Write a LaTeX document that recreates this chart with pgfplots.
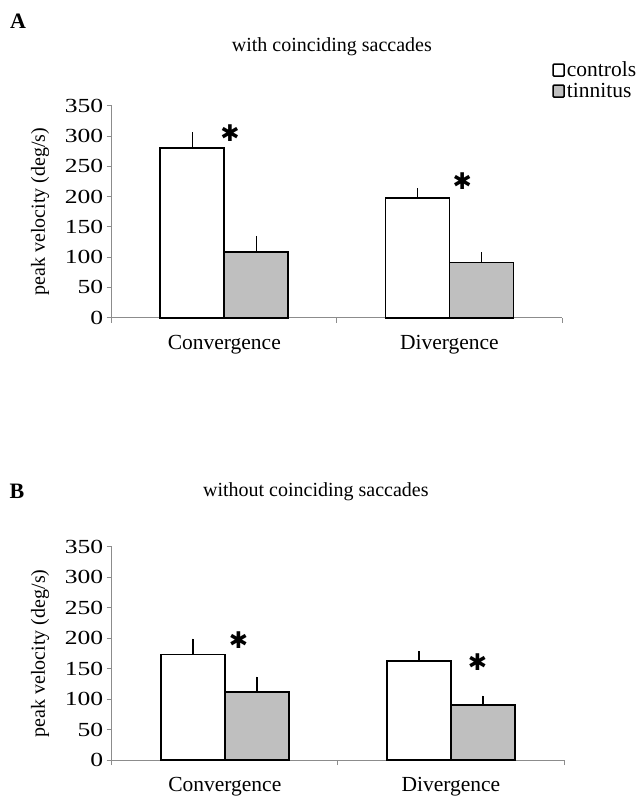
\documentclass[border=0pt]{standalone}
\usepackage{fontspec}
\setmainfont{Liberation Serif}
\newfontfamily\dejavu{DejaVu Sans}
\usepackage{graphicx}
\usepackage{pgfplots}
\pgfplotsset{compat=1.18}
\newcommand{\fs}{\rmfamily\fontsize{20}{24}\selectfont}
\newcommand{\fl}{\rmfamily\fontsize{21.5}{24}\selectfont}
\pgfplotsset{
  myaxis/.style={
    scale only axis,
    ybar=0pt, bar width=64pt,
    ymin=0, ymax=350, ytick={0,50,...,350},
    yticklabel={\scalebox{1.28}[1]{\pgfmathprintnumber{\tick}}},
    xmin=-0.5, xmax=1.5,
    xtick={-0.5,0.5,1.5}, xticklabels={},
    extra x ticks={0,1}, extra x tick labels={Convergence,Divergence},
    extra x tick style={major tick length=0pt, tick label style={yshift=-14pt, font=\fl}},
    axis x line*=bottom, axis y line*=left,
    axis line style={-, color=black!45, line width=0.9pt},
    tick style={color=black!45, line width=0.9pt},
    tick align=outside, major tick length=5pt,
    tick label style={font=\fs},
    /pgf/number format/assume math mode=true,
    ylabel={peak velocity (deg/s)},
    every axis y label/.style={at={(rel axis cs:0,0.5)}, xshift=-71.7pt, rotate=90, anchor=center, font=\fs},
    title style={font=\fs, at={(rel axis cs:0.5,1)}, anchor=center},
    clip=false,
  },
  ctrl/.style={fill=white, draw=black, line width=1.8pt,
    error bars/.cd, y dir=plus, y explicit, error mark=none,
    error bar style={line width=1.5pt, black}},
  tinn/.style={fill=black!25, draw=black, line width=1.8pt,
    error bars/.cd, y dir=plus, y explicit, error mark=none,
    error bar style={line width=1.5pt, black}},
}
\newcommand{\sigast}{{\dejavu\fontsize{23}{23}\selectfont ✱}}
\begin{document}
\begin{tikzpicture}
\path[use as bounding box] (0,0) rectangle (640pt,803pt);
\node[font=\rmfamily\bfseries\fontsize{22}{24}\selectfont] at (18pt,782pt) {A};
\node[font=\rmfamily\bfseries\fontsize{22}{24}\selectfont] at (17pt,312pt) {B};
\begin{axis}[myaxis, at={(111.7pt,485.3pt)}, anchor=south west,
  width=450.3pt, height=212pt,
  title={with coinciding saccades}, title style={yshift=52.7pt, xshift=-5pt},
  legend style={draw=none, fill=none, inner sep=0pt, font=\fl,
    at={(0.978,1.119)}, anchor=west, row sep=1pt, legend cell align=left},
  legend image code/.code={\draw[#1, line width=1.6pt, rounded corners=1pt] (0pt,-6pt) rectangle (11pt,6pt);},
]
\addplot[ctrl] coordinates {(0,280) +- (0,26) (1,197) +- (0,16.5)};
\addplot[tinn] coordinates {(0,108) +- (0,27) (1,91) +- (0,17)};
\legend{controls,tinnitus}
\node at (axis cs:0.026,305) {\sigast};
\node at (axis cs:1.057,226) {\sigast};
\end{axis}
\begin{axis}[myaxis, at={(111.7pt,43pt)}, anchor=south west,
  width=452.3pt, height=213.3pt,
  title={without coinciding saccades}, title style={yshift=48.7pt, xshift=-22pt},
]
\addplot[ctrl] coordinates {(0,173) +- (0,26) (1,162) +- (0,17)};
\addplot[tinn] coordinates {(0,111) +- (0,26) (1,90) +- (0,15.5)};
\node at (axis cs:0.061,197) {\sigast};
\node at (axis cs:1.118,161) {\sigast};
\end{axis}
\end{tikzpicture}
\end{document}
